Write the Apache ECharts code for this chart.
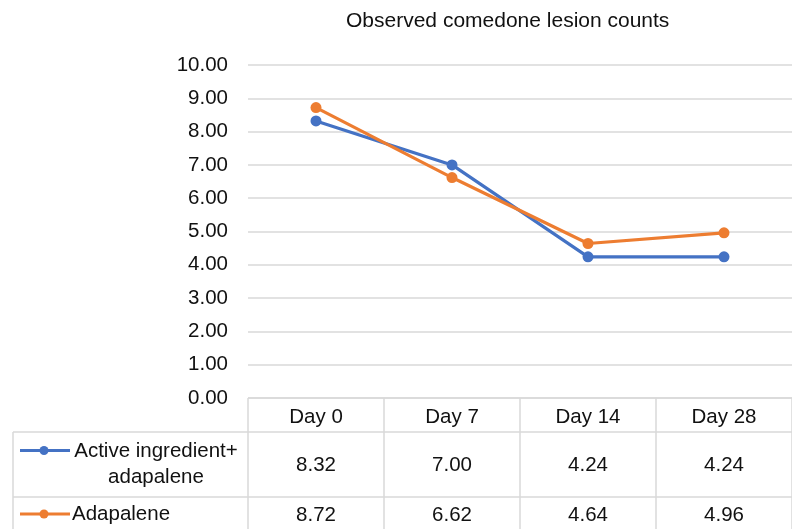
<!DOCTYPE html>
<html><head><meta charset="utf-8">
<script src="https://cdn.jsdelivr.net/npm/echarts@6/dist/echarts.min.js"></script>
<style>html,body{margin:0;padding:0;background:#fff}#c{width:792px;height:529px}</style>
</head><body><div id="c"></div>
<script>
// ---- data ----
const chartTitle = 'Observed comedone lesion counts';
const categories = ['Day 0', 'Day 7', 'Day 14', 'Day 28'];
const seriesNames = ['Active ingredient+\nadapalene', 'Adapalene'];
const activeValues = [8.32, 7.00, 4.24, 4.24];
const adapaleneValues = [8.72, 6.62, 4.64, 4.96];
const yMin = 0, yMax = 10, yStep = 1;

// ---- styles ----
const FONT = "'Liberation Sans', Arial, sans-serif";
const FS = 20.5;
const TXT = '#111111';
const GRID_C = '#d9d9d9';
const colors = ['#4472C4', '#ED7D31'];
const seriesData = [activeValues, adapaleneValues];

const chart = echarts.init(document.getElementById('c'), null, {renderer: 'canvas'});
const option = {
  animation: false,
  backgroundColor: '#fff',
  title: {
    text: chartTitle, left: 341, top: 6,
    textStyle: {fontFamily: FONT, fontSize: 21, fontWeight: 'normal', color: TXT}
  },
  grid: {left: 248, top: 65, width: 552, bottom: 131, containLabel: false},
  xAxis: {
    type: 'category', data: categories, boundaryGap: true,
    axisLine: {show: false}, axisTick: {show: false},
    axisLabel: {fontFamily: FONT, fontSize: FS, color: TXT, margin: 9},
    splitLine: {show: false}
  },
  yAxis: {
    type: 'value', min: yMin, max: yMax, interval: yStep,
    axisLine: {show: false}, axisTick: {show: false},
    axisLabel: {fontFamily: FONT, fontSize: FS, color: TXT, margin: 20,
      formatter: v => v.toFixed(2), padding: [5, 0, 0, 0]},
    splitLine: {lineStyle: {color: GRID_C, width: 1.5}}
  },
  series: seriesData.map((d, i) => ({
    name: seriesNames[i], type: 'line', data: d,
    symbol: 'circle', symbolSize: 11,
    lineStyle: {color: colors[i], width: 3.2},
    itemStyle: {color: colors[i]},
    z: 3 + i
  }))
};
chart.setOption(option);

// ---- data table under the plot ----
const p0 = chart.convertToPixel({gridIndex: 0}, [0, yMin]);
const p1 = chart.convertToPixel({gridIndex: 0}, [1, yMin]);
const band = p1[0] - p0[0];
const tableLeft = p0[0] - band / 2;
const tableRight = tableLeft + band * categories.length;
const legendLeft = 13;
const headerTop = p0[1];
const headerBottom = headerTop + 34;
const rowH = [65, 34];
const rowTops = [headerBottom, headerBottom + rowH[0]];
const tableBottom = rowTops[1] + rowH[1];

const g = [];
const lineSty = {stroke: GRID_C, lineWidth: 1.5};
function hl(x1, x2, y) { g.push({type: 'line', shape: {x1, y1: y, x2, y2: y}, style: lineSty, z: 1}); }
function vl(x, y1, y2) { g.push({type: 'line', shape: {x1: x, y1, x2: x, y2}, style: lineSty, z: 1}); }
hl(tableLeft, tableRight, headerTop);
hl(legendLeft, tableRight, headerBottom);
hl(legendLeft, tableRight, rowTops[1]);
hl(legendLeft, tableRight, tableBottom);
vl(legendLeft, headerBottom, tableBottom);
for (let k = 0; k <= categories.length; k++) vl(tableLeft + band * k, headerTop, tableBottom);

seriesData.forEach((d, i) => {
  const cy = rowTops[i] + rowH[i] / 2;
  // legend key
  const lx = 20, lw = 50, ly = i === 0 ? cy - 14 : cy;
  g.push({type: 'line', shape: {x1: lx, y1: ly, x2: lx + lw, y2: ly}, style: {stroke: colors[i], lineWidth: 3}, z: 5});
  g.push({type: 'circle', shape: {cx: lx + 24, cy: ly, r: 4.5}, style: {fill: colors[i]}, z: 6});
  g.push({type: 'text', x: i === 0 ? 156 : 72, y: cy,
    style: {text: seriesNames[i], font: FS + 'px ' + FONT, fill: TXT,
      align: i === 0 ? 'center' : 'left', verticalAlign: 'middle', lineHeight: 26}, z: 5});
  d.forEach((v, j) => {
    const px = chart.convertToPixel({gridIndex: 0}, [j, v]);
    g.push({type: 'text', x: px[0], y: cy + 1,
      style: {text: v.toFixed(2), font: FS + 'px ' + FONT, fill: TXT, align: 'center', verticalAlign: 'middle'}, z: 5});
  });
});
chart.setOption({graphic: {elements: g}});
</script></body></html>
